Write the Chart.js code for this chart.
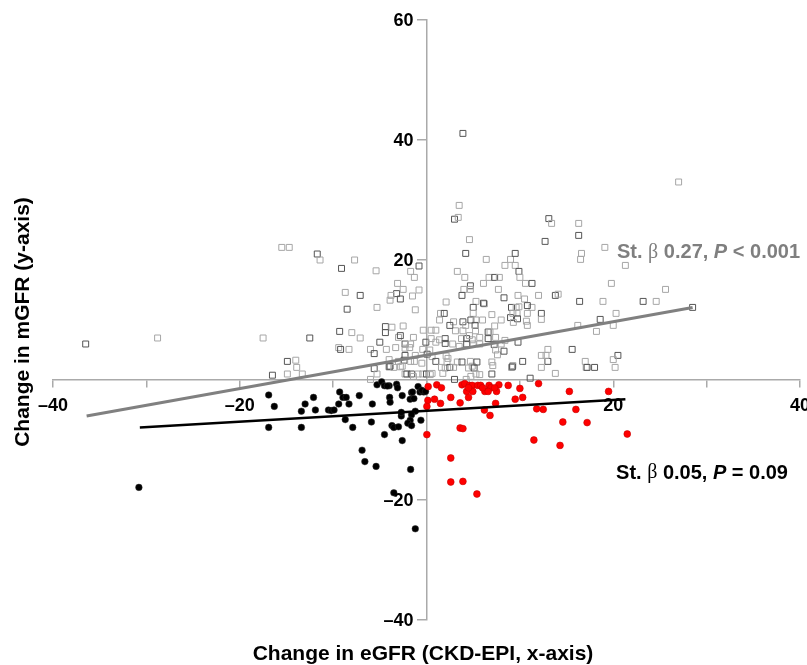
<!DOCTYPE html>
<html>
<head>
<meta charset="utf-8">
<script src="https://cdn.jsdelivr.net/npm/chart.js@4"></script>
<style>
  html, body { margin: 0; padding: 0; background: #fff; }
  #wrap { width: 807px; height: 665px; }
</style>
</head>
<body>
<div id="wrap"><canvas id="c" width="807" height="665"></canvas></div>
<script>
// open squares: change in mGFR >= 0
const sqX = [
  -36.5, -28.8, -17.5, -12.5, -15.5, -14.7, -11.7, -11.4, -7.7, -9.1, -5.4, -1.7, -0.8, -1.3,
  -8.7, -7.1, -3.1, -2.5, -3.2, -3.8, -3.9, -2.8, -1.5, -0.8, -8.5, -5.3, -1.2,
  -9.3, -8.0, -7.1, -4.4, -3.7, -2.5, -4.4, -3.0, -1.4, -5.0, -4.3, -3.3, -2.3, -1.8,
  -9.4, -9.2, -8.3, -6.0, -5.6, -4.0, -3.0, -2.4, -1.7, -1.3, -14.9, -14.0, -13.9,
  -16.5, -14.9, -13.3, -5.6, -5.3, -6.0, -4.0, -2.8, -2.3, -1.6, -0.9, -0.4, 0.0,
  -0.35, 0.5, -2.8, -2.3, -1.7, -0.07, 0.5, -0.4, -3.9, -3.5, -2.6, -2.3, -1.2, -0.5,
  0.07, 0.6, 0.35, -2.1, -1.4, 0.6,
  3.9, 27.0, 3.5, 3.0, 3.4, 4.6, 13.1, 13.4, 16.3, 16.3, 16.6, 16.5, 12.7, 19.1, 21.3, 4.2, 6.4,
  9.0, 9.5, 9.5, 8.4, 9.9, 10.0, 10.6, 11.3, 3.3, 4.1, 4.7, 4.7, 4.0, 3.8,
  6.1, 6.7, 7.3, 7.8, 7.7, 8.3, 5.3, 6.2, 5.0, 9.8, 10.5, 9.1, 9.6, 12.0, 13.8, 14.1,
  11.3, 12.3, 12.3, 10.8, 16.4, 18.9, 19.8, 23.2, 24.6, 25.6, 28.5,
  20.3, 20.0, 18.6, 18.2, 16.2, 20.5, 20.0, 20.2, 18.0, 17.1, 17.0, 15.6, 13.8, 13.0, 13.0,
  12.3, 12.3, 10.3, 9.25, 9.1, 11.1, 10.8, 12.8, 17.2,
  2.1, 1.5, 1.9, 1.4, 2.9, 3.9, 4.2, 5.0, 4.75, 5.3, 6.0, 5.2, 3.9, 3.1, 2.5, 1.0, 5.25, 6.6,
  7.3, 8.0, 9.0, 9.25, 9.7, 9.75, 9.3, 10.7, 10.8, 9.9, 7.0, 6.1, 6.8, 7.4, 6.6, 5.7, 4.9,
  4.3, 3.75, 4.6, 2.0, 1.4, 1.0, 2.0, 2.8, 3.5, 4.3, 5.0, 5.7, 7.25, 8.0, 8.4, 9.8, 7.4,
  7.6, 8.3, 2.1, 2.3, 1.0, 2.2, 3.3, 3.8, 4.7, 4.9, 5.4, 7.0, 7.1, 9.2, 1.6, 2.0, 2.5, 2.9,
  4.5, 5.1, 5.3, 5.7, 7.0, 1.75, 0.4, 3.0, 4.25, 4.75
];
const sqY = [
  6.0, 7.0, 7.0, 7.0, 22.1, 22.1, 21.0, 20.0, 20.0, 18.6, 18.2, 18.1, 19.0, 17.1,
  14.6, 14.1, 16.1, 15.1, 14.4, 14.1, 13.3, 13.5, 14.0, 15.0, 11.8, 12.1, 11.7,
  8.1, 7.9, 7.0, 8.9, 8.8, 9.0, 7.9, 7.1, 7.1, 6.3, 5.1, 5.4, 6.0, 5.4,
  5.4, 5.1, 5.1, 5.1, 4.4, 3.4, 3.1, 3.3, 3.1, 3.1, 3.1, 3.3, 2.1,
  0.8, 1.0, 1.0, 1.9, 1.0, 0.1, 2.2, 2.2, 1.0, 1.0, 1.0, 1.0, 1.0,
  8.3, 8.3, 7.4, 5.3, 6.0, 6.3, 6.9, 5.1, 2.3, 2.1, 2.3, 4.1, 4.1, 2.8,
  4.3, 3.9, 5.0, 1.0, 0.6, 1.1,
  41.1, 33.0, 29.1, 26.8, 27.1, 23.4, 26.9, 26.1, 26.1, 24.1, 21.1, 20.1, 23.1, 22.1, 19.1, 21.1, 20.1,
  20.1, 21.1, 19.1, 19.1, 18.1, 17.1, 16.1, 16.1, 18.1, 17.1, 15.7, 15.1, 15.1, 14.1,
  16.1, 17.1, 17.1, 17.1, 15.1, 13.7, 13.1, 12.7, 12.1, 14.1, 13.5, 12.1, 12.1, 14.1, 14.1, 14.3,
  12.1, 11.1, 10.1, 9.1, 13.1, 13.1, 16.1, 13.1, 13.1, 15.1, 12.1,
  11.1, 9.1, 10.1, 8.1, 9.1, 4.1, 3.4, 2.1, 2.1, 2.1, 3.1, 5.1, 1.1, 5.1, 3.1,
  4.1, 2.1, 3.1, 2.4, 2.1, 0.3, 11.1, 4.1, 2.1,
  13.0, 11.1, 11.1, 10.0, 9.7, 9.7, 9.1, 11.1, 10.0, 10.0, 10.0, 9.1, 8.2, 8.2, 9.1, 8.3, 8.2, 8.0,
  9.0, 10.0, 10.4, 11.1, 11.1, 10.2, 9.6, 9.8, 12.4, 12.2, 10.9, 12.8, 8.0, 7.1, 6.9, 7.1, 6.7,
  6.9, 6.9, 7.4, 6.9, 6.7, 6.3, 6.1, 6.0, 5.6, 6.0, 6.0, 6.0, 5.9, 6.0, 6.6, 6.3, 5.0,
  4.2, 4.8, 4.0, 3.6, 3.1, 3.0, 3.0, 3.0, 3.1, 2.3, 3.0, 3.0, 2.4, 2.2, 2.1, 2.0, 2.1, 2.1,
  2.0, 2.0, 1.0, 0.9, 1.0, 1.1, 0.9, 0.1, 0.1, 0.6
];

// black dots: change in eGFR < 0, change in mGFR < 0
const blkX = [
  -30.8, -16.9, -16.3, -16.9, -13.4, -13.4, -13.0, -12.1, -11.9,
  -10.5, -10.2, -9.9, -9.4, -9.3, -8.95, -8.6, -8.3, -8.7, -7.9, -7.2, -5.8, -5.9,
  -5.3, -4.8, -4.5, -4.0, -3.2, -3.1, -3.95, -3.9, -2.6, -1.6, -0.9, -0.7, -0.3, -1.75, -1.35,
  -2.7, -1.2, -1.6, -1.75, -2.0, -1.6, -3.7, -3.5, -3.0, -4.5, -2.6, -0.6,
  -6.9, -6.6, -5.4, -1.7, -3.5, -1.2,
  -4.2, -0.5, -1.5, -2.7, -0.1
];
const blkY = [
  -17.9, -2.5, -4.4, -7.9, -7.9, -5.2, -4.0, -2.9, -5.0,
  -5.0, -5.1, -5.0, -4.0, -2.0, -2.9, -2.9, -4.0, -6.6, -7.9, -2.6, -4.0, -7.0,
  -0.8, -0.3, -0.95, -0.95, -0.7, -1.3, -2.9, -3.7, -2.6, -2.1, -1.1, -2.0, -2.0, -3.2, -3.1,
  -6.0, -5.2, -5.8, -6.7, -7.2, -7.6, -7.6, -7.9, -7.8, -9.1, -10.1, -6.7,
  -11.7, -13.6, -14.4, -14.9, -18.8, -24.8,
  -1.0, -1.7, -2.0, -5.4, -1.9
];

// red dots: change in eGFR > 0, change in mGFR < 0
const redX = [
  0.18, 1.1, 1.6, 0.15, 0.86, 1.5, 0.04, 2.6, 3.6, 3.8, 4.1, 4.6, 4.9, 5.5, 5.8, 6.7, 6.9,
  7.75, 8.75, 10.0, 12.0, 4.3, 4.96, 6.25, 6.6, 7.5, 4.5, 6.2, 6.8, 7.4, 9.5, 10.3, 11.8,
  12.5, 15.3, 16.0, 19.5, 14.6, 17.2, 21.5, 11.5, 14.3, 3.6, 3.9, 0.04, 2.6, 2.6, 3.9, 5.4,
  4.5, 6.0, 7.3
];
const redY = [
  -1.1, -0.8, -1.3, -3.4, -3.2, -3.9, -4.4, -2.9, -3.8, -0.8, -0.6, -0.9, -0.9, -0.9, -0.9, -0.9, -1.3,
  -0.8, -0.9, -1.4, -0.6, -1.9, -1.9, -1.9, -1.9, -1.9, -2.9, -5.0, -5.9, -3.9, -3.2, -2.9, -4.8,
  -4.9, -1.9, -4.9, -1.9, -7.0, -7.1, -9.0, -10.0, -10.9, -8.0, -8.1, -9.1, -13.0, -17.0, -16.9, -19.0,
  -1.3, -1.3, -1.3
];

// regression lines (end points)
const fitUpX = [-36.4, 28.5];
const fitUpY = [-6.0, 12.1];
const fitLoX = [-30.7, 21.3];
const fitLoY = [-7.9, -3.2];

const xTickLabels = [-40, -20, 20, 40];
const yTickLabels = [-40, -20, 20, 40, 60];

const xTitle = 'Change in eGFR (CKD-EPI, x-axis)';
const yTitle = 'Change in mGFR (y-axis)';

const notes = [
  { x: 20.4, y: 21.2, color: '#7f7f7f', parts: ['St. ', 'β', ' 0.27, ', 'P', ' < 0.001'] },
  { x: 20.3, y: -15.5, color: '#000', parts: ['St. ', 'β', ' 0.05, ', 'P', ' = 0.09'] }
];

const FONT = '"Liberation Sans", Arial, Helvetica, sans-serif';
const pts = (xs, ys) => xs.map((x, i) => ({ x, y: ys[i] }));
const minus = v => String(v).replace('-', '\u2013');

// part fonts: plain bold, serif beta, bold, bold italic P, bold
const partFont = [
  `bold 20px ${FONT}`, '20px "Liberation Serif", serif', `bold 20px ${FONT}`,
  `italic bold 20px ${FONT}`, `bold 20px ${FONT}`
];

const textPlugin = {
  id: 'texts',
  afterDraw(chart) {
    const { ctx, scales: { x, y } } = chart;
    ctx.save();
    ctx.fillStyle = '#000';
    ctx.font = `bold 21px ${FONT}`;
    ctx.textAlign = 'center';
    ctx.textBaseline = 'middle';
    ctx.fillText(xTitle, 423, 654);
    ctx.save();
    ctx.translate(23, 322);
    ctx.rotate(-Math.PI / 2);
    ctx.fillText(yTitle, 0, 0);
    ctx.restore();

    // y tick labels sit left of the centred axis, clear of the tick marks
    ctx.font = `bold 18px ${FONT}`;
    ctx.textAlign = 'right';
    const axisX = x.getPixelForValue(0);
    yTickLabels.forEach(v => ctx.fillText(minus(v), axisX - 13, y.getPixelForValue(v) + 1));

    ctx.textAlign = 'left';
    notes.forEach(n => {
      let px = x.getPixelForValue(n.x);
      const py = y.getPixelForValue(n.y);
      ctx.fillStyle = n.color;
      n.parts.forEach((t, i) => {
        ctx.font = partFont[i];
        ctx.fillText(t, px, py);
        px += ctx.measureText(t).width;
      });
    });
    ctx.restore();
  }
};

const axisColor = '#aaaaaa';

new Chart(document.getElementById('c'), {
  type: 'scatter',
  data: {
    datasets: [
      { label: 'fit up', type: 'line', data: pts(fitUpX, fitUpY), borderColor: '#808080',
        borderWidth: 3, pointRadius: 0, order: 0 },
      { label: 'fit low', type: 'line', data: pts(fitLoX, fitLoY), borderColor: '#000',
        borderWidth: 2.5, pointRadius: 0, order: 1 },
      { label: 'up', data: pts(sqX, sqY), pointStyle: 'rect', pointRadius: 4.2, borderWidth: 1,
        backgroundColor: 'rgba(255,255,255,0)',
        borderColor: c => (c.dataIndex % 3 === 0 ? '#555555' : '#a6a6a6'), order: 4 },
      { label: 'down, eGFR down', data: pts(blkX, blkY), pointRadius: 3.3, borderWidth: 0.5,
        backgroundColor: '#000', borderColor: '#333', order: 3 },
      { label: 'down, eGFR up', data: pts(redX, redY), pointRadius: 3.4, borderWidth: 0.6,
        backgroundColor: '#ff0000', borderColor: '#c80000', order: 2 }
    ]
  },
  options: {
    responsive: false,
    animation: false,
    devicePixelRatio: 1,
    layout: { padding: { left: 53, right: 7, top: 20, bottom: 45 } },
    plugins: { legend: { display: false }, tooltip: { enabled: false } },
    scales: {
      x: {
        type: 'linear', min: -40, max: 40, position: { y: 0 },
        afterFit: s => { s.paddingLeft = 0; s.paddingRight = 0; },
        border: { color: axisColor, width: 1.5 },
        grid: { drawOnChartArea: false, drawTicks: true, tickLength: 7, color: axisColor, lineWidth: 1.5 },
        ticks: {
          stepSize: 10, padding: 8, color: '#000', maxRotation: 0, autoSkip: false,
          font: { family: FONT, size: 18, weight: 'bold' },
          callback: v => (xTickLabels.includes(v) ? minus(v) : '')
        }
      },
      y: {
        type: 'linear', min: -40, max: 60, position: { x: 0 },
        afterFit: s => { s.paddingTop = 0; s.paddingBottom = 0; },
        border: { color: axisColor, width: 1.5 },
        grid: { drawOnChartArea: false, drawTicks: true, tickLength: 9, color: axisColor, lineWidth: 1.5 },
        ticks: { stepSize: 20, autoSkip: false, callback: () => '' }
      }
    }
  },
  plugins: [textPlugin]
});
</script>
</body>
</html>
